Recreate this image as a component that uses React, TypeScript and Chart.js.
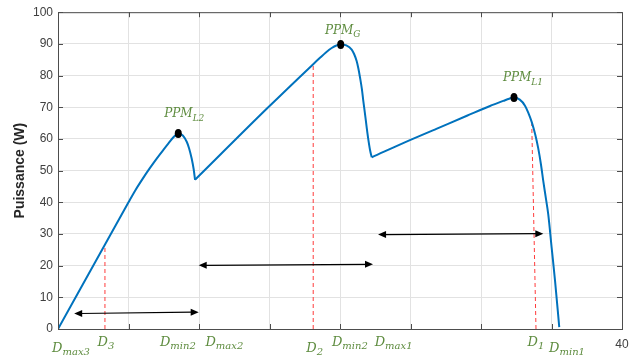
import React, { useEffect, useRef } from 'react';
import { Chart, registerables } from 'chart.js';

Chart.register(...registerables);

// P-V curve, split at the two sharp local minima (duty cycle 0..40, power in W)
const seg1X = [0, 5, 5.5, 6, 6.5, 7, 7.5, 7.82, 8.2, 8.53, 8.85, 9.13, 9.3, 9.48, 9.62, 9.72];
const seg1Y = [0, 40, 43.9, 47.4, 50.7, 53.8, 56.7, 58.5, 60.6, 61.7, 61.1, 59.1, 57.0, 53.8, 50.5, 47.1];

const seg2X = [9.72, 14.8, 18.1, 18.58, 19.0, 19.41, 19.75, 20.05, 20.45, 20.83, 21.0, 21.18, 21.3, 21.42, 21.55, 21.65, 21.77, 21.89, 22.0, 22.13, 22.25];
const seg2Y = [47.1, 69.5, 83.6, 85.6, 87.3, 88.7, 89.5, 89.8, 89.5, 88.2, 86.8, 84.6, 82.3, 79.4, 75.8, 72.1, 68.0, 63.75, 60.1, 56.5, 54.2];

const seg3X = [22.25, 25, 27, 29, 30.64, 31.58, 32.0, 32.34, 32.75, 33.12, 33.35, 33.6, 33.85, 34.06, 34.25, 34.42, 34.6, 34.77, 35.01, 35.25, 35.55];
const seg3Y = [54.2, 59.7, 63.5, 67.3, 70.4, 72.0, 72.7, 73.1, 72.4, 70.5, 68.3, 65.3, 61.3, 57.0, 52.0, 46.6, 41.3, 36.2, 25.7, 15.3, 0.6];

// maximum power points
const peakX = [8.53, 20.05, 32.34];
const peakY = [61.7, 89.8, 73.1];
const peakSubs = ['L2', 'G', 'L1'];

// red dashed duty-cycle markers
const markerBottomX = [3.33, 18.1, 33.9];
const markerTopX = [3.33, 18.1, 33.6];
const markerTopY = [26.6, 83.3, 64.8];

// double-headed arrows (search ranges)
const arrowX1 = [1.15, 9.98, 22.7];
const arrowX2 = [9.98, 22.34, 34.42];
const arrowY1 = [4.9, 20.1, 29.8];
const arrowY2 = [5.3, 20.4, 30.1];

// green labels under the x axis
const dLabelSubs = ['max3', '3', 'min2', 'max2', '2', 'min2', 'max1', '1', 'min1'];
const dLabelX = [0.92, 3.4, 8.5, 11.8, 18.2, 20.7, 23.8, 33.9, 36.1];
const dLabelRow = [1, 0, 0, 0, 1, 0, 0, 0, 1];

const xTickValues = [0, 5, 10, 15, 20, 25, 30, 35, 40];
const yTickValues = [0, 10, 20, 30, 40, 50, 60, 70, 80, 90, 100];

const GREEN = '#5e8c3f';
const BLUE = '#0072BD';
const LABEL_FONT_MAIN = 'italic 13px "DejaVu Serif"';
const LABEL_FONT_SUB = 'italic 10px "DejaVu Serif"';

function drawSubText(ctx: CanvasRenderingContext2D, main: string, sub: string, cx: number, base: number, mainFont: string, subFont: string) {
  ctx.font = mainFont;
  const wm = ctx.measureText(main).width;
  ctx.font = subFont;
  const ws = ctx.measureText(sub).width;
  const x0 = cx - (wm + ws) / 2;
  ctx.textAlign = 'left';
  ctx.textBaseline = 'alphabetic';
  ctx.font = mainFont;
  ctx.fillText(main, x0, base);
  ctx.font = subFont;
  ctx.fillText(sub, x0 + wm, base + 3.5);
}

function arrowHead(ctx: CanvasRenderingContext2D, tx: number, ty: number, dir: number) {
  const len = 8, half = 3.5;
  ctx.beginPath();
  ctx.moveTo(tx, ty);
  ctx.lineTo(tx - dir * len, ty - half);
  ctx.lineTo(tx - dir * len, ty + half);
  ctx.closePath();
  ctx.fill();
}

const annotations = {
  id: 'annotations',
  beforeDatasetsDraw(chart: any) {
    const { ctx, scales: { x, y } } = chart;
    ctx.save();
    ctx.strokeStyle = '#ff3b3b';
    ctx.lineWidth = 1;
    ctx.setLineDash([4, 3]);
    for (let i = 0; i < markerBottomX.length; i++) {
      ctx.beginPath();
      ctx.moveTo(x.getPixelForValue(markerBottomX[i]), y.getPixelForValue(0));
      ctx.lineTo(x.getPixelForValue(markerTopX[i]), y.getPixelForValue(markerTopY[i]));
      ctx.stroke();
    }
    ctx.restore();
  },
  afterDatasetsDraw(chart: any) {
    const { ctx, chartArea: ca, scales: { x, y } } = chart;
    ctx.save();
    // box + inward ticks
    ctx.strokeStyle = '#4d4d4d';
    ctx.lineWidth = 1;
    ctx.beginPath();
    ctx.moveTo(ca.left, ca.top + 0.5);
    ctx.lineTo(ca.right + 0.5, ca.top + 0.5);
    ctx.lineTo(ca.right + 0.5, ca.bottom);
    ctx.stroke();
    const tl = 5;
    ctx.beginPath();
    for (const v of xTickValues) {
      const px = Math.round(x.getPixelForValue(v)) + 0.5;
      ctx.moveTo(px, ca.bottom); ctx.lineTo(px, ca.bottom - tl);
      ctx.moveTo(px, ca.top); ctx.lineTo(px, ca.top + tl);
    }
    for (const v of yTickValues) {
      const py = Math.round(y.getPixelForValue(v)) + 0.5;
      ctx.moveTo(ca.left, py); ctx.lineTo(ca.left + tl, py);
      ctx.moveTo(ca.right, py); ctx.lineTo(ca.right - tl, py);
    }
    ctx.stroke();

    // arrows
    ctx.strokeStyle = '#000';
    ctx.fillStyle = '#000';
    ctx.lineWidth = 1.2;
    for (let i = 0; i < arrowX1.length; i++) {
      const x1 = x.getPixelForValue(arrowX1[i]);
      const x2 = x.getPixelForValue(arrowX2[i]);
      const y1 = y.getPixelForValue(arrowY1[i]);
      const y2 = y.getPixelForValue(arrowY2[i]);
      ctx.beginPath();
      ctx.moveTo(x1 + 6, y1);
      ctx.lineTo(x2 - 6, y2);
      ctx.stroke();
      arrowHead(ctx, x1, y1, -1);
      arrowHead(ctx, x2, y2, 1);
    }

    // peak dots
    ctx.fillStyle = '#000';
    for (let i = 0; i < peakX.length; i++) {
      const px = x.getPixelForValue(peakX[i]);
      const py = y.getPixelForValue(peakY[i]);
      ctx.beginPath();
      ctx.ellipse(px, py, 3.5, 4.5, 0, 0, Math.PI * 2);
      ctx.fill();
    }

    // PPM labels
    ctx.fillStyle = GREEN;
    const dxs = [6, 2, 9];
    const dys = [-16.5, -11, -16];
    for (let i = 0; i < peakX.length; i++) {
      const px = x.getPixelForValue(peakX[i]);
      const py = y.getPixelForValue(peakY[i]);
      drawSubText(ctx, 'PPM', peakSubs[i], px + dxs[i], py + dys[i], 'italic 12px "DejaVu Serif"', 'italic 9px "DejaVu Serif"');
    }

    // D labels
    for (let i = 0; i < dLabelSubs.length; i++) {
      const cx = x.getPixelForValue(dLabelX[i]);
      const base = ca.bottom + (dLabelRow[i] ? 22.5 : 16.5);
      drawSubText(ctx, 'D', dLabelSubs[i], cx, base, LABEL_FONT_MAIN, LABEL_FONT_SUB);
    }
    ctx.restore();
  },
};

function seg(xs: number[], ys: number[]) {
  return {
    data: xs.map((v, i) => ({ x: v, y: ys[i] })),
    showLine: true,
    borderColor: BLUE,
    backgroundColor: BLUE,
    borderWidth: 2,
    pointRadius: 0,
    cubicInterpolationMode: 'monotone',
    fill: false,
  };
}

export default function App() {
  const ref = useRef<HTMLCanvasElement | null>(null);
  useEffect(() => {
    if (!ref.current) return;
    const tickFont = { family: '"Liberation Sans", Arial, sans-serif', size: 12 };
    const chart = new Chart(ref.current, {
      type: 'scatter',
      data: {
        datasets: [seg(seg1X, seg1Y), seg(seg2X, seg2Y), seg(seg3X, seg3Y)],
      },
      options: {
        animation: false,
        responsive: false,
        layout: { padding: { top: 9, right: 16, left: 0, bottom: 0 } },
        plugins: { legend: { display: false }, tooltip: { enabled: false } },
        scales: {
          x: {
            type: 'linear',
            min: 0,
            max: 40,
            afterBuildTicks: (s: any) => { s.ticks = xTickValues.map((v) => ({ value: v })); },
            ticks: {
              color: '#404040',
              font: tickFont,
              padding: 8,
              maxRotation: 0,
              autoSkip: false,
              callback: (v: any) => (Number(v) === 40 ? '40' : ''),
            },
            grid: { color: '#e2e2e2', drawTicks: false },
            border: { color: '#4d4d4d', width: 1 },
            afterFit: (s: any) => { s.height = 27; },
          },
          y: {
            min: 0,
            max: 100,
            afterBuildTicks: (s: any) => { s.ticks = yTickValues.map((v) => ({ value: v })); },
            ticks: { color: '#404040', font: tickFont, padding: 5 },
            grid: { color: '#e2e2e2', drawTicks: false },
            border: { color: '#4d4d4d', width: 1 },
            title: {
              display: true,
              text: 'Puissance (W)',
              color: '#262626',
              font: { family: '"Liberation Sans", Arial, sans-serif', size: 14, weight: 'bold' },
              padding: { top: 12, bottom: 0 },
            },
            afterFit: (s: any) => { s.width = 58; },
          },
        },
      },
      plugins: [annotations],
    } as any);
    return () => chart.destroy();
  }, []);
  return (
    <div style={{ position: 'absolute', left: 0, top: 0, width: 638, height: 356, background: '#fff' }}>
      <canvas ref={ref} width={638} height={356} style={{ display: 'block' }} />
    </div>
  );
}
